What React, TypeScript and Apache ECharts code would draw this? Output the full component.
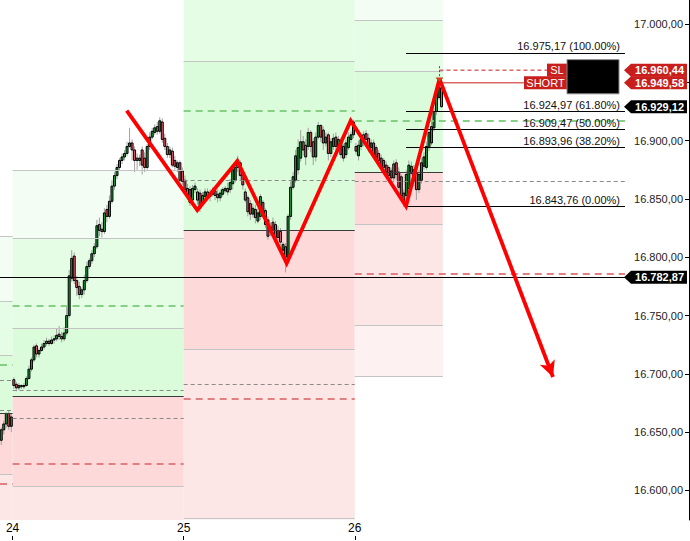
import React, { useEffect, useRef } from "react";
import * as echarts from "echarts";

const FONT = '"Liberation Sans", Arial, Helvetica, sans-serif';

const dayLabels = ["23", "24", "25", "26"];

// candles: [open, close, low, high]
const candles23 = [
  [16643, 16652, 16639, 16654],
  [16652, 16657, 16648, 16660],
  [16657, 16666, 16654, 16667],
  [16666, 16655, 16652, 16669],
  [16655, 16663, 16650, 16666],
];

const candles24 = [
  [16695, 16690, 16687, 16697], [16691, 16688, 16685, 16693], [16688, 16690, 16686, 16692], [16690, 16689, 16687, 16691],
  [16689, 16690, 16687, 16692], [16690, 16696, 16689, 16698], [16696, 16704, 16695, 16707], [16704, 16712, 16702, 16714],
  [16712, 16723, 16710, 16725], [16724, 16717, 16714, 16726], [16717, 16720, 16714, 16722], [16720, 16723, 16719, 16726],
  [16723, 16726, 16721, 16729], [16726, 16728, 16724, 16731], [16728, 16726, 16724, 16730], [16726, 16729, 16725, 16732],
  [16729, 16730, 16726, 16733], [16730, 16733, 16728, 16739], [16734, 16732, 16729, 16741], [16732, 16730, 16727, 16736],
  [16730, 16735, 16728, 16740], [16735, 16750, 16733, 16759], [16750, 16784, 16748, 16789], [16782, 16799, 16779, 16806],
  [16801, 16780, 16777, 16804], [16780, 16774, 16767, 16784], [16775, 16768, 16764, 16779], [16768, 16772, 16765, 16774],
  [16772, 16780, 16768, 16785], [16780, 16792, 16778, 16796], [16792, 16797, 16790, 16799], [16797, 16803, 16794, 16806],
  [16803, 16809, 16800, 16812], [16809, 16827, 16807, 16832], [16828, 16823, 16818, 16834], [16824, 16822, 16817, 16830],
  [16822, 16838, 16820, 16842], [16841, 16835, 16830, 16845], [16835, 16848, 16833, 16853], [16848, 16861, 16846, 16866],
  [16861, 16870, 16858, 16873], [16870, 16877, 16867, 16880], [16877, 16883, 16874, 16885], [16883, 16886, 16880, 16889],
  [16886, 16889, 16883, 16892], [16889, 16895, 16887, 16899], [16895, 16898, 16894, 16911], [16898, 16892, 16883, 16901],
  [16892, 16883, 16873, 16895], [16885, 16883, 16875, 16889], [16883, 16885, 16878, 16888], [16892, 16879, 16871, 16895],
  [16885, 16877, 16873, 16890], [16877, 16895, 16875, 16897], [16895, 16903, 16892, 16907], [16903, 16908, 16901, 16911],
  [16907, 16911, 16905, 16914], [16912, 16908, 16905, 16916], [16908, 16917, 16906, 16920], [16916, 16901, 16898, 16919],
  [16902, 16895, 16892, 16906], [16895, 16888, 16885, 16898], [16888, 16892, 16885, 16895], [16891, 16879, 16877, 16894],
  [16883, 16878, 16875, 16887], [16877, 16881, 16873, 16883], [16881, 16866, 16864, 16883], [16874, 16865, 16862, 16877],
];

const candles25 = [
  [16866, 16858, 16855, 16870], [16859, 16853, 16849, 16863], [16858, 16847, 16844, 16861], [16849, 16859, 16847, 16862],
  [16858, 16861, 16855, 16864], [16856, 16849, 16845, 16859], [16855, 16842, 16839, 16858], [16847, 16853, 16844, 16856],
  [16852, 16856, 16850, 16859], [16856, 16852, 16849, 16859], [16852, 16855, 16848, 16858], [16854, 16857, 16852, 16860],
  [16857, 16853, 16849, 16859], [16854, 16851, 16847, 16858], [16851, 16855, 16848, 16858], [16854, 16858, 16852, 16860],
  [16857, 16859, 16855, 16861], [16859, 16856, 16853, 16864], [16858, 16864, 16855, 16867], [16863, 16875, 16858, 16879],
  [16866, 16877, 16864, 16881], [16883, 16877, 16873, 16887], [16881, 16870, 16866, 16883], [16871, 16862, 16858, 16873],
  [16856, 16849, 16847, 16859], [16851, 16839, 16835, 16853], [16846, 16837, 16832, 16849], [16837, 16842, 16834, 16846],
  [16841, 16834, 16829, 16845], [16831, 16838, 16829, 16842], [16835, 16852, 16832, 16854], [16847, 16838, 16834, 16849],
  [16840, 16828, 16825, 16842], [16832, 16818, 16815, 16835], [16822, 16826, 16818, 16830], [16830, 16823, 16818, 16834],
  [16828, 16817, 16813, 16831], [16823, 16817, 16814, 16827], [16822, 16813, 16810, 16825], [16806, 16811, 16804, 16813],
  [16809, 16800, 16787, 16812], [16800, 16835, 16798, 16837], [16835, 16860, 16832, 16865], [16860, 16869, 16858, 16873],
  [16866, 16887, 16864, 16892], [16875, 16894, 16871, 16901], [16885, 16899, 16882, 16909], [16899, 16892, 16887, 16904],
  [16896, 16886, 16879, 16901], [16895, 16907, 16892, 16911], [16907, 16895, 16890, 16909], [16899, 16886, 16879, 16902],
  [16886, 16903, 16882, 16907], [16903, 16913, 16901, 16916], [16913, 16903, 16899, 16914], [16909, 16898, 16892, 16912],
  [16898, 16903, 16895, 16907], [16905, 16889, 16883, 16907], [16889, 16899, 16886, 16902], [16895, 16902, 16892, 16906],
  [16903, 16895, 16892, 16907], [16895, 16901, 16890, 16904], [16899, 16888, 16885, 16902], [16895, 16885, 16882, 16897],
  [16888, 16898, 16885, 16901], [16894, 16903, 16892, 16907], [16901, 16905, 16898, 16908], [16905, 16916, 16902, 16918],
];

const candles26 = [
  [16895, 16891, 16888, 16898], [16887, 16896, 16883, 16900], [16895, 16901, 16892, 16905], [16905, 16899, 16895, 16908],
  [16906, 16901, 16896, 16909], [16902, 16894, 16890, 16906], [16894, 16898, 16890, 16901], [16898, 16888, 16885, 16901],
  [16894, 16886, 16883, 16896], [16889, 16883, 16879, 16892], [16885, 16878, 16875, 16888], [16883, 16877, 16875, 16885],
  [16879, 16873, 16871, 16882], [16877, 16870, 16866, 16879], [16868, 16874, 16865, 16877], [16880, 16868, 16865, 16883],
  [16881, 16871, 16866, 16884], [16873, 16860, 16858, 16877], [16869, 16853, 16849, 16871], [16855, 16847, 16843, 16858],
  [16853, 16871, 16849, 16875], [16859, 16879, 16856, 16883], [16872, 16878, 16870, 16882], [16875, 16865, 16861, 16879],
  [16872, 16858, 16849, 16877], [16858, 16871, 16855, 16875], [16866, 16881, 16863, 16885], [16878, 16886, 16875, 16890],
  [16877, 16895, 16875, 16899], [16894, 16907, 16891, 16910], [16898, 16912, 16896, 16916], [16911, 16925, 16908, 16928],
  [16925, 16941, 16922, 16943], [16937, 16946, 16935, 16953], [16945, 16929.12, 16928, 16952],
];

// pivot levels per session: R3, R2, R1, P, S1, S2, S3 (null = outside the view)
const pivots23 = [16818.2, 16762.5, 16716.1, 16666.4, 16614.1, null, null];
const pivots24 = [16874.8, 16816.5, 16739.3, 16680.7, 16603.8, null, null];
const pivots25 = [null, null, 16968.3, 16823.1, 16721.3, 16576.3, null];
const pivots26 = [null, 17003.4, 16959.7, 16873.1, 16828.5, 16741.9, 16698.1];

const prevHighs = [16707.6, 16758.2, 16925.4, 16916.8];
const prevLows = [16605.5, 16622.6, 16678.4, 16785.6];
const refLevels = [[16694.7, 16669.0], [16686.1, 16662.1], [16866.2, 16691.3], [16865.4]];

// zigzag pattern: [slot, price]
const zigzag = [
  [50.36, 16925.7], [78.42, 16840.5], [94.32, 16882.5], [113.95, 16794.8],
  [139.39, 16917.1], [161.37, 16843.76], [174.68, 16952.9],
];
const projectionEnd = [219.79, 16697.3];

const fibLevels = [16975.17, 16924.97, 16909.47, 16893.96, 16843.76];
const fibRatios = ["100.00%", "61.80%", "50.00%", "38.20%", "0.00%"];

const slPrice = 16960.44;
const entryPrice = 16949.58;
const lastPrice = 16929.12;
const markPrice = 16782.87;

const yTicks = [16600, 16650, 16700, 16750, 16800, 16850, 16900, 16950, 17000];
// 16.950,00 sits under the price tags, so it is not labelled
const yLabels = [16600, 16650, 16700, 16750, 16800, 16850, 16900, 17000];

const Y_MIN = 16574.65;
const Y_MAX = 17020.6;
const X_MAX = 250;
const LINE_END = 248.4;

const de = (v: number) => {
  const [i, d] = v.toFixed(2).split(".");
  return i.replace(/\B(?=(\d{3})+(?!\d))/g, ".") + "," + d;
};

export default function App() {
  const ref = useRef<HTMLDivElement>(null);

  useEffect(() => {
    document.body.style.margin = "0";
    const sessions = [candles23, candles24, candles25, candles26];
    const starts: number[] = [];
    let acc = 0;
    sessions.forEach((s) => {
      starts.push(acc);
      acc += s.length;
    });
    const ends = starts.map((s, i) => s + sessions[i].length);
    const last = sessions.length - 1;
    const lineEnd = (si: number) => (si === last ? LINE_END : ends[si]);

    const candleData: number[][] = [];
    sessions.forEach((s, si) =>
      s.forEach((c, k) => candleData.push([starts[si] + k + 0.5, c[0], c[1], c[2], c[3]]))
    );

    const bandColors = ["#f3fdf3", "#e5fde5", "#dafcda", "#fdd9d9", "#fde6e6", "#fef1f1"];
    const pivots = [pivots23, pivots24, pivots25, pivots26];
    const areas: any[] = [];
    const lines: any[] = [];
    pivots.forEach((lv, si) => {
      for (let b = 0; b < lv.length - 1; b++) {
        const top = lv[b];
        const bot = lv[b + 1];
        if (top == null && bot == null) continue;
        areas.push([
          { xAxis: starts[si], yAxis: top == null ? Y_MAX : top, itemStyle: { color: bandColors[b], opacity: 1 } },
          { xAxis: ends[si], yAxis: bot == null ? Y_MIN : bot },
        ]);
      }
      lv.forEach((v, li) => {
        if (v == null) return;
        lines.push([
          { coord: [starts[si], v], lineStyle: { color: li === 3 ? "#3c3c3c" : "#c4c4c4", width: 1, type: "solid" } },
          { coord: [ends[si], v] },
        ]);
      });
    });
    prevHighs.forEach((v, si) =>
      lines.push([
        { coord: [starts[si], v], lineStyle: { color: "#86d086", width: 2, type: [7, 5] } },
        { coord: [lineEnd(si), v] },
      ])
    );
    prevLows.forEach((v, si) =>
      lines.push([
        { coord: [starts[si], v], lineStyle: { color: "#e08080", width: 2, type: [7, 5] } },
        { coord: [lineEnd(si), v] },
      ])
    );
    refLevels.forEach((arr, si) =>
      arr.forEach((v) =>
        lines.push([
          { coord: [starts[si], v], lineStyle: { color: "#8a8a8a", width: 1, type: [4, 3] } },
          { coord: [lineEnd(si), v] },
        ])
      )
    );
    lines.push([
      { coord: [0, markPrice], lineStyle: { color: "#000", width: 1, type: "solid" } },
      { coord: [LINE_END, markPrice] },
    ]);

    const zz0 = zigzag[zigzag.length - 1];
    const fibStart = zigzag[zigzag.length - 2][0];

    const option: any = {
      animation: false,
      textStyle: { fontFamily: FONT },
      grid: { left: 0, right: 61, top: 0, bottom: 21, containLabel: false, outerBoundsMode: "none" },
      xAxis: {
        type: "value",
        min: 0,
        max: X_MAX,
        position: "bottom",
        offset: 20,
        axisLine: { show: false, onZero: false },
        splitLine: { show: false },
        axisTick: {
          show: true,
          inside: true,
          length: 4,
          customValues: starts.slice(1),
          lineStyle: { color: "#000" },
        },
        axisLabel: {
          inside: true,
          margin: 6,
          customValues: starts.slice(1),
          formatter: (v: number) => {
            const i = starts.indexOf(v);
            return i >= 0 ? dayLabels[i] : "";
          },
          color: "#000",
          fontSize: 12,
          fontFamily: FONT,
        },
      },
      yAxis: {
        type: "value",
        position: "right",
        offset: 60,
        min: Y_MIN,
        max: Y_MAX,
        splitLine: { show: false },
        axisLine: { show: true, onZero: false, lineStyle: { color: "#000" } },
        axisTick: { show: true, inside: true, length: 4, customValues: yTicks, lineStyle: { color: "#000" } },
        axisLabel: {
          inside: true,
          margin: 6,
          customValues: yLabels,
          formatter: (v: number) => de(v),
          color: "#222",
          fontSize: 11,
          fontFamily: FONT,
        },
      },
      series: [
        {
          name: "zones",
          type: "line",
          data: [],
          z: 1,
          silent: true,
          markArea: { silent: true, label: { show: false }, data: areas },
        },
        {
          name: "levels",
          type: "line",
          data: [],
          z: 2,
          silent: true,
          markLine: { silent: true, symbol: ["none", "none"], label: { show: false }, data: lines },
        },
        {
          name: "candles",
          type: "custom",
          z: 3,
          silent: true,
          data: candleData,
          encode: { x: 0, y: [1, 2, 3, 4] },
          renderItem: (params: any, api: any) => {
            const x = api.value(0);
            const o = api.value(1);
            const c = api.value(2);
            const l = api.value(3);
            const h = api.value(4);
            const pO = api.coord([x, o]);
            const pC = api.coord([x, c]);
            const pL = api.coord([x, l]);
            const pH = api.coord([x, h]);
            const w = api.size([1, 0])[0] * 0.78;
            const top = Math.min(pO[1], pC[1]);
            const bh = Math.max(Math.abs(pO[1] - pC[1]), 1);
            return {
              type: "group",
              children: [
                {
                  type: "line",
                  shape: { x1: pH[0], y1: pH[1], x2: pL[0], y2: pL[1] },
                  style: { stroke: "#a0a0a0", lineWidth: 1 },
                },
                {
                  type: "rect",
                  shape: { x: pO[0] - w / 2, y: top, width: w, height: bh },
                  style: { fill: c >= o ? "#17a03a" : "#f25a6a", stroke: "#000", lineWidth: 1 },
                },
              ],
            };
          },
        },
        {
          name: "fib",
          type: "line",
          data: [],
          z: 4,
          silent: true,
          markLine: {
            silent: true,
            symbol: ["none", "none"],
            lineStyle: { color: "#000", width: 1, type: "solid" },
            label: {
              show: true,
              position: "insideEndTop",
              distance: [5, 1],
              color: "#111",
              fontSize: 11,
              fontFamily: FONT,
              formatter: (p: any) => p.name,
            },
            data: fibLevels.map((v, i) => [
              { coord: [fibStart, v], name: `${de(v)} (${fibRatios[i]})` },
              { coord: [LINE_END, v] },
            ]),
          },
        },
        {
          name: "zigzag",
          type: "line",
          z: 5,
          silent: true,
          symbol: "none",
          data: zigzag,
          lineStyle: { color: "#ff0000", width: 3.8, join: "miter" },
        },
        {
          name: "projection",
          type: "line",
          data: [],
          z: 5,
          silent: true,
          markLine: {
            silent: true,
            symbol: ["none", "arrow"],
            symbolSize: [12, 16],
            label: { show: false },
            lineStyle: { color: "#ff0000", width: 3.8, type: "solid" },
            itemStyle: { color: "#ff0000" },
            data: [[{ coord: zz0 }, { coord: projectionEnd }]],
          },
        },
      ],
    };

    const chart = echarts.init(ref.current!, null, { renderer: "svg" });
    chart.setOption(option);

    const py = (v: number) => chart.convertToPixel({ yAxisIndex: 0 }, v) as number;
    const px = (v: number) => chart.convertToPixel({ xAxisIndex: 0 }, v) as number;
    const RED = "#c81f1c";
    const tagFont = `bold 11px ${FONT}`;
    const tag = (v: number, fill: string) => {
      const y = py(v);
      return [
        {
          type: "polygon",
          z: 100,
          shape: { points: [[624, y], [631, y - 6.5], [687, y - 6.5], [687, y + 6.5], [631, y + 6.5]] },
          style: { fill },
        },
        {
          type: "text",
          z: 101,
          x: 684,
          y: y,
          style: { text: de(v), fill: "#fff", font: tagFont, align: "right", verticalAlign: "middle", textAlign: "right", textVerticalAlign: "middle" },
        },
      ];
    };
    const ySL = py(slPrice);
    const yE = py(entryPrice);
    const xE = px(zz0[0]);
    const boxText = (text: string, cx: number, cy: number) => ({
      type: "text",
      z: 101,
      x: cx,
      y: cy,
      style: { text, fill: "#fff", font: `11px ${FONT}`, align: "center", verticalAlign: "middle", textAlign: "center", textVerticalAlign: "middle" },
    });
    const elements: any[] = [
      { type: "line", z: 90, shape: { x1: xE, y1: ySL, x2: 547, y2: ySL }, style: { stroke: RED, lineWidth: 1, lineDash: [4, 3] } },
      { type: "line", z: 90, shape: { x1: xE, y1: yE, x2: 524, y2: yE }, style: { stroke: RED, lineWidth: 1 } },
      { type: "line", z: 90, shape: { x1: xE, y1: ySL - 4, x2: xE, y2: yE - 5 }, style: { stroke: RED, lineWidth: 1, lineDash: [2, 2] } },
      { type: "polygon", z: 91, shape: { points: [[xE - 3.5, yE - 5], [xE + 3.5, yE - 5], [xE, yE - 1]] }, style: { fill: "#e2401c", stroke: "#b03010", lineWidth: 0.5 } },
      { type: "rect", z: 100, shape: { x: 547, y: ySL - 6.5, width: 20, height: 13 }, style: { fill: RED } },
      boxText("SL", 557, ySL),
      { type: "rect", z: 100, shape: { x: 524, y: yE - 6.5, width: 43, height: 13 }, style: { fill: RED } },
      boxText("SHORT", 545.5, yE),
      { type: "rect", z: 100, shape: { x: 567, y: ySL - 10.5, width: 52, height: yE - ySL + 21.5 }, style: { fill: "#000", stroke: "#8a8a8a", lineWidth: 1 } },
      ...tag(slPrice, RED),
      ...tag(entryPrice, RED),
      ...tag(lastPrice, "#000"),
      ...tag(markPrice, "#000"),
    ];
    chart.setOption({ graphic: { elements } });

    return () => chart.dispose();
  }, []);

  return <div ref={ref} style={{ width: 690, height: 541 }} />;
}
